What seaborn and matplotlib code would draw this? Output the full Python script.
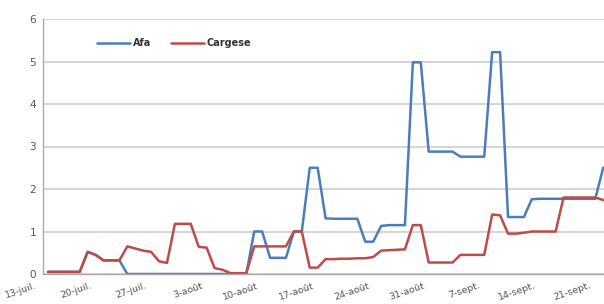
import numpy as np
import pandas as pd
import matplotlib
matplotlib.use("Agg")
import matplotlib.pyplot as plt
import matplotlib.dates as mdates
from matplotlib.transforms import ScaledTranslation
import seaborn as sns

# ---- data (daily values, 13 July -> 22 Sept) ----
start_date = "2013-07-13"
afa = [0.05, 0.05, 0.05, 0.05, 0.05, 0.52, 0.45, 0.32, 0.32, 0.32,
       0.0, 0.0, 0.0, 0.0, 0.0, 0.0, 0.0, 0.0, 0.0, 0.0,
       0.0, 0.0, 0.0, 0.0, 0.0, 0.0, 1.0, 1.0, 0.38, 0.38,
       0.38, 1.0, 1.0, 2.5, 2.5, 1.31, 1.3, 1.3, 1.3, 1.3,
       0.76, 0.76, 1.13, 1.15, 1.15, 1.15, 4.98, 4.98, 2.88, 2.88,
       2.88, 2.88, 2.76, 2.76, 2.76, 2.76, 5.22, 5.22, 1.34, 1.34,
       1.34, 1.76, 1.77, 1.77, 1.77, 1.77, 1.77, 1.77, 1.77, 1.77,
       2.5]
cargese = [0.05, 0.05, 0.05, 0.05, 0.05, 0.52, 0.45, 0.32, 0.32, 0.32,
           0.65, 0.6, 0.55, 0.52, 0.3, 0.26, 1.18, 1.18, 1.18, 0.64,
           0.62, 0.14, 0.1, 0.02, 0.02, 0.02, 0.65, 0.65, 0.65, 0.65,
           0.65, 1.0, 1.0, 0.15, 0.15, 0.35, 0.35, 0.36, 0.36, 0.37,
           0.37, 0.4, 0.55, 0.56, 0.57, 0.58, 1.15, 1.15, 0.27, 0.27,
           0.27, 0.27, 0.45, 0.45, 0.45, 0.45, 1.4, 1.38, 0.95, 0.95,
           0.97, 1.0, 1.0, 1.0, 1.0, 1.8, 1.8, 1.8, 1.8, 1.8,
           1.74]
series_names = ["Afa", "Cargese"]
tick_labels = ["13-juil.", "20-juil.", "27-juil.", "3-août", "10-août",
               "17-août", "24-août", "31-août", "7-sept.", "14-sept.", "21-sept."]
y_ticks = [0, 1, 2, 3, 4, 5, 6]

dates = pd.date_range(start_date, periods=len(afa), freq="D")
df = pd.DataFrame({
    "date": np.concatenate([dates, dates]),
    "value": afa + cargese,
    "series": [series_names[0]] * len(afa) + [series_names[1]] * len(cargese),
})

sns.set_style("white")
plt.rcParams["font.family"] = ["DejaVu Sans"]

fig = plt.figure(figsize=(6.04, 3.04), dpi=100)
ax = fig.add_axes([43 / 604, 30 / 304, 561 / 604, 255 / 304])

palette = {"Afa": "#4a7ebb", "Cargese": "#be4b48"}
sns.lineplot(data=df, x="date", y="value", hue="series", palette=palette,
             linewidth=1.8, ax=ax, legend=True)

# axes ranges
d0 = mdates.date2num(dates[0])
ax.set_xlim(d0 - 0.63, d0 + 70.1)
ax.set_ylim(0, 6)
ax.set_xlabel("")
ax.set_ylabel("")

# y grid and ticks
ax.set_yticks(y_ticks)
ax.set_yticklabels([str(v) for v in y_ticks])
ax.yaxis.grid(True, color="#c9c9c9", linewidth=1.1)
ax.xaxis.grid(False)
ax.tick_params(axis="y", length=0, pad=5, labelsize=7.5, labelcolor="#555555")

# x ticks: weekly
tick_pos = [d0 + 7 * k - 0.5 for k in range(len(tick_labels))]
ax.set_xticks(tick_pos)
ax.set_xticklabels(tick_labels)
ax.tick_params(axis="x", length=4, width=0.8, color="#aaaaaa", pad=1,
               labelsize=6.8, labelcolor="#555555")
offset = ScaledTranslation(-7 / 72, 0 / 72, fig.dpi_scale_trans)
for lab in ax.get_xticklabels():
    lab.set_rotation(19)
    lab.set_ha("right")
    lab.set_va("top")
    lab.set_rotation_mode("anchor")
    lab.set_transform(lab.get_transform() + offset)

for side in ["top", "right"]:
    ax.spines[side].set_visible(False)
for side in ["left", "bottom"]:
    ax.spines[side].set_color("#aaaaaa")
    ax.spines[side].set_linewidth(1.0)

# legend
leg = ax.legend(loc="center", bbox_to_anchor=(174 / 604, 1 - 43 / 304),
                bbox_transform=fig.transFigure, ncol=2, frameon=False,
                fontsize=7, handlelength=3.4, handletextpad=0.3,
                columnspacing=2.0)
for t in leg.get_texts():
    t.set_fontweight("bold")
    t.set_color("#333333")

fig.savefig("out.png", dpi=100)
